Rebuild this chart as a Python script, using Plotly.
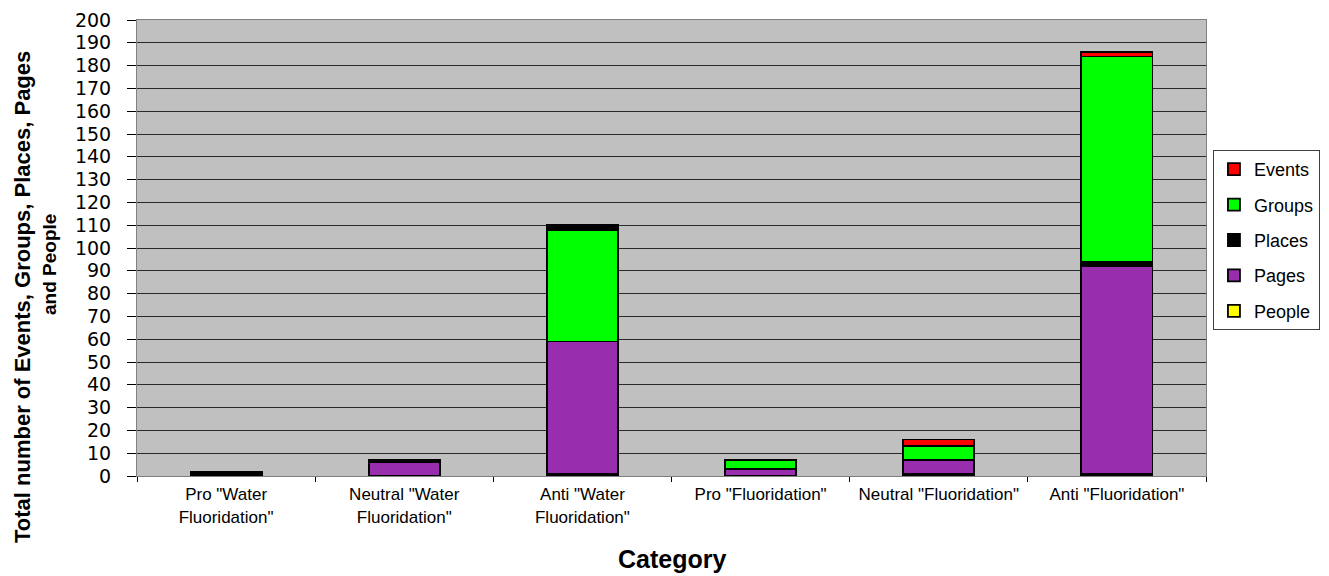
import plotly.graph_objects as go

categories = ['Pro "Water<br>Fluoridation"', 'Neutral "Water<br>Fluoridation"', 'Anti "Water<br>Fluoridation"',
              'Pro "Fluoridation"', 'Neutral "Fluoridation"', 'Anti "Fluoridation"']
people = [0, 0, 1, 0, 1, 1]
pages = [1, 6, 58, 3, 6, 91]
places_low = [1, 1, 0, 0, 0, 2]      # places stacked below groups
groups = [0, 0, 49, 4, 6, 90]
places_top = [0, 0, 2, 0, 0, 0]      # places drawn on top (as in the reference bar)
events = [0, 0, 0, 0, 3, 2]

colors = {"People": "#FFFF00", "Pages": "#982EAE", "Places": "#000000",
          "Groups": "#00FF00", "Events": "#FF0000"}
ranks = {"Events": 1, "Groups": 2, "Places": 3, "Pages": 4, "People": 5}

fig = go.Figure()
def add(name, vals, show=True):
    fig.add_trace(go.Bar(
        x=categories, y=vals, name=name, showlegend=show,
        legendgroup=name, legendrank=ranks[name],
        marker=dict(color=colors[name], line=dict(color="#000000", width=1.8)),
        width=0.4,
    ))

add("People", people)
add("Pages", pages)
add("Places", places_low)
add("Groups", groups)
add("Places", places_top, show=False)
add("Events", events)

fig.update_layout(
    barmode="stack",
    width=1329, height=576,
    margin=dict(l=137, r=123, t=20, b=100, autoexpand=False),
    paper_bgcolor="white",
    plot_bgcolor="#C0C0C0",
    font=dict(family="Arial, Liberation Sans, sans-serif", color="black"),
    showlegend=True,
    legend=dict(
        x=1.0065, y=(476 - 150) / 456, xanchor="left", yanchor="top",
        traceorder="grouped", tracegroupgap=9,
        bgcolor="white", bordercolor="#404040", borderwidth=1,
        font=dict(size=18, color="black"),
        itemwidth=30,
    ),
    xaxis=dict(
        type="category", tickson="boundaries", ticks="outside", ticklen=5,
        tickcolor="black", showgrid=False, automargin=False,
        showline=True, linecolor="#808080", linewidth=1, mirror=True,
        tickfont=dict(size=17, color="black"),
        ticklabelstandoff=3,
    ),
    yaxis=dict(
        range=[0, 200], dtick=10, ticks="outside", ticklen=9, tickcolor="black",
        showgrid=True, gridcolor="#2a2a2a", gridwidth=1, automargin=False,
        showline=True, linecolor="#808080", linewidth=1, mirror=True,
        tickfont=dict(size=19, color="black", family="DejaVu Sans, Arial, sans-serif"),
        ticklabelstandoff=12,
        zeroline=False,
    ),
    annotations=[
        dict(text="<b>Total number of Events, Groups, Places, Pages</b>",
             textangle=-90, x=(22 - 137) / 1069, y=(476 - 297) / 456, xref="paper", yref="paper",
             xanchor="center", yanchor="middle", showarrow=False,
             font=dict(size=22, color="black")),
        dict(text="<b>and People</b>",
             textangle=-90, x=(49 - 137) / 1069, y=(476 - 265) / 456, xref="paper", yref="paper",
             xanchor="center", yanchor="middle", showarrow=False,
             font=dict(size=19, color="black")),
        dict(text="<b>Category</b>", x=0.5, y=(476 - 559) / 456, xref="paper", yref="paper",
             xanchor="center", yanchor="middle", showarrow=False,
             font=dict(size=25, color="black")),
    ],
)

fig.write_html("out.html")
